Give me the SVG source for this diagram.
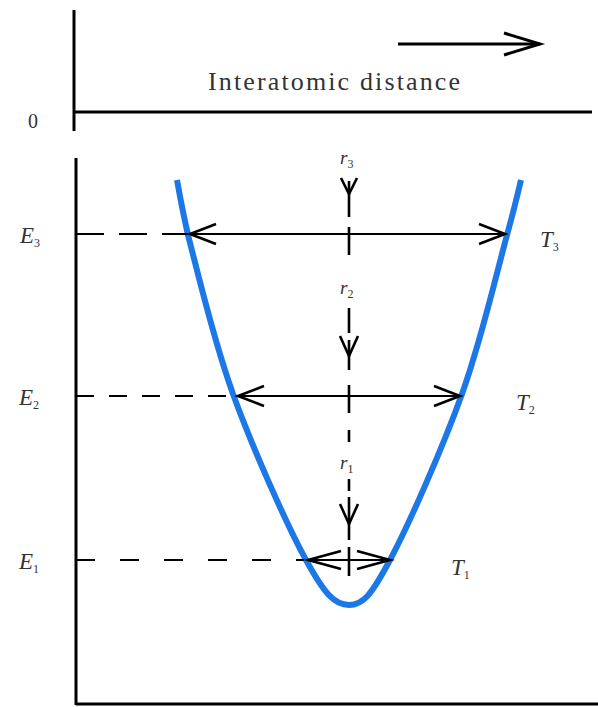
<svg xmlns="http://www.w3.org/2000/svg" width="598" height="707" viewBox="0 0 598 707">
<style>
.ax{stroke:#000;stroke-width:3;fill:none}
.ln{stroke:#000;stroke-width:2.2;fill:none}
.hd{stroke:#000;stroke-width:2.6;fill:none;stroke-linejoin:miter}
.lbl{font-family:"Liberation Serif","Times New Roman",serif;font-style:italic;font-size:23px;fill:#333}
.sub{font-size:12px;font-style:normal}
.t{font-family:"Liberation Serif","Times New Roman",serif;font-size:26px;fill:#333}
</style>
<rect width="598" height="707" fill="#fff"/>
<g id="top-axis">
<line class="ax" x1="74" y1="10" x2="74" y2="131"/>
<line class="ax" x1="74" y1="112" x2="592" y2="112"/>
<text class="t" x="28" y="128" style="font-size:20px">0</text>
<text class="t" x="208" y="90" textLength="252" lengthAdjust="spacing">Interatomic distance</text>
<line class="ax" x1="398" y1="44" x2="540" y2="44"/>
<polyline class="hd" points="504,33 540,44 504,55" style="stroke-width:3"/>
</g>
<g id="energy-axis">
<line class="ax" x1="76" y1="158" x2="76" y2="705"/>
<line class="ax" x1="76" y1="704" x2="598" y2="704"/>
</g>
<g id="curve">
<path d="M177,180 C178.8,189.2 180,199.3 188,235 C197.3,270.7 213.3,339.8 233,394 C252.7,448.2 286.7,524.8 306,560 C325.3,595.2 335,605 349,605 C363,605 371.2,595.2 390,560 C408.8,524.8 442.5,448.2 462,394 C481.5,339.8 497.2,270.7 507,235 C516.8,199.3 518.7,189.2 521,180" fill="none" stroke="#1b78e6" stroke-width="6"/>
</g>
<g id="connectors">
<line class="ln" x1="76" y1="234" x2="188" y2="234" stroke-dasharray="28,15"/>
<line class="ln" x1="76" y1="396" x2="234" y2="396" stroke-dasharray="18,15"/>
<line class="ln" x1="76" y1="560" x2="304" y2="560" stroke-dasharray="19,25"/>
<line class="ln" x1="190" y1="234" x2="505" y2="234"/>
<polyline class="hd" points="216,224 190,234 216,244"/>
<polyline class="hd" points="479,224 505,234 479,244"/>
<line class="ln" x1="238" y1="396" x2="460" y2="396"/>
<polyline class="hd" points="264,386 238,396 264,406"/>
<polyline class="hd" points="434,386 460,396 434,406"/>
<line class="ln" x1="308" y1="560" x2="390" y2="560"/>
<polyline class="hd" points="341,551 308,560 341,569"/>
<polyline class="hd" points="357,551 390,560 357,569"/>
<line class="hd" x1="349" y1="181" x2="349" y2="217"/>
<polyline class="hd" points="341,178 349,194 357,178"/>
<line class="hd" x1="349" y1="227" x2="349" y2="255"/>
<line class="hd" x1="349" y1="308" x2="349" y2="333"/>
<line class="hd" x1="349" y1="340" x2="349" y2="370"/>
<polyline class="hd" points="340,336 349,356 358,336"/>
<line class="hd" x1="349" y1="385" x2="349" y2="413"/>
<line class="hd" x1="349" y1="430" x2="349" y2="442"/>
<line class="hd" x1="349" y1="479" x2="349" y2="491"/>
<line class="hd" x1="349" y1="497" x2="349" y2="540"/>
<polyline class="hd" points="340,504 349,524 358,504"/>
<line class="hd" x1="349" y1="547" x2="349" y2="576"/>
</g>
<g id="labels">
<text class="lbl" x="20" y="243">E<tspan class="sub" dy="4">3</tspan></text>
<text class="lbl" x="19" y="405">E<tspan class="sub" dy="4">2</tspan></text>
<text class="lbl" x="19" y="569">E<tspan class="sub" dy="4">1</tspan></text>
<text class="lbl" x="540" y="247">T<tspan class="sub" dy="4">3</tspan></text>
<text class="lbl" x="516" y="410">T<tspan class="sub" dy="4">2</tspan></text>
<text class="lbl" x="451" y="575">T<tspan class="sub" dy="4">1</tspan></text>
<text class="lbl" x="340" y="164" style="font-size:19px">r<tspan class="sub" dy="4">3</tspan></text>
<text class="lbl" x="340" y="294" style="font-size:19px">r<tspan class="sub" dy="4">2</tspan></text>
<text class="lbl" x="340" y="469" style="font-size:19px">r<tspan class="sub" dy="4">1</tspan></text>
</g>
</svg>
